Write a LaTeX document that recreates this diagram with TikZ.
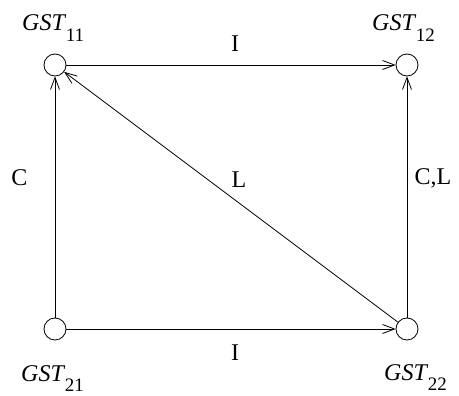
\documentclass[tikz,border=0pt]{standalone}
\usepackage{fontspec}
\setmainfont{Liberation Serif}
\usetikzlibrary{arrows.meta}
\newcommand\gstlab[1]{\textit{GST}\kern-0.5pt\raisebox{-10.5pt}{\fontsize{19}{19}\selectfont #1}}
\begin{document}
\begin{tikzpicture}[x=1pt,y=1pt,
  state/.style={draw,circle,minimum size=22pt,inner sep=0pt,line width=0.8pt},
  conn/.style={draw,line width=0.8pt,-{Straight Barb[length=12pt,width=9pt,line width=0.8pt]}},
  lab/.style={font=\fontsize{24}{28}\selectfont,inner sep=0pt}]
\useasboundingbox (0,0) rectangle (459,396);
\node[state] (n11) at (55,331) {};
\node[state] (n12) at (407,331) {};
\node[state] (n21) at (55,67) {};
\node[state] (n22) at (407,67) {};
\node[lab,anchor=base west] (t11) at (22,365) {\gstlab{11}};
\node[lab,anchor=base west] (t12) at (372,365) {\gstlab{12}};
\node[lab,anchor=base west] (t21) at (21,14.5) {\gstlab{21}};
\node[lab,anchor=base west] (t22) at (384,15.5) {\gstlab{22}};
\draw[conn] (n11) -- (n12);
\draw[conn] (n21) -- (n11);
\draw[conn] (n22) -- (n12);
\draw[conn] (n21) -- (n22);
\draw[conn] (n22) -- (n11);
\node[lab] (i1) at (235,352) {I};
\node[lab] (i2) at (235,43) {I};
\node[lab] (c1) at (19.5,218.5) {C};
\node[lab] (l1) at (239,216.5) {L};
\node[lab] (cl) at (433,218) {C,L};
\end{tikzpicture}
\end{document}
